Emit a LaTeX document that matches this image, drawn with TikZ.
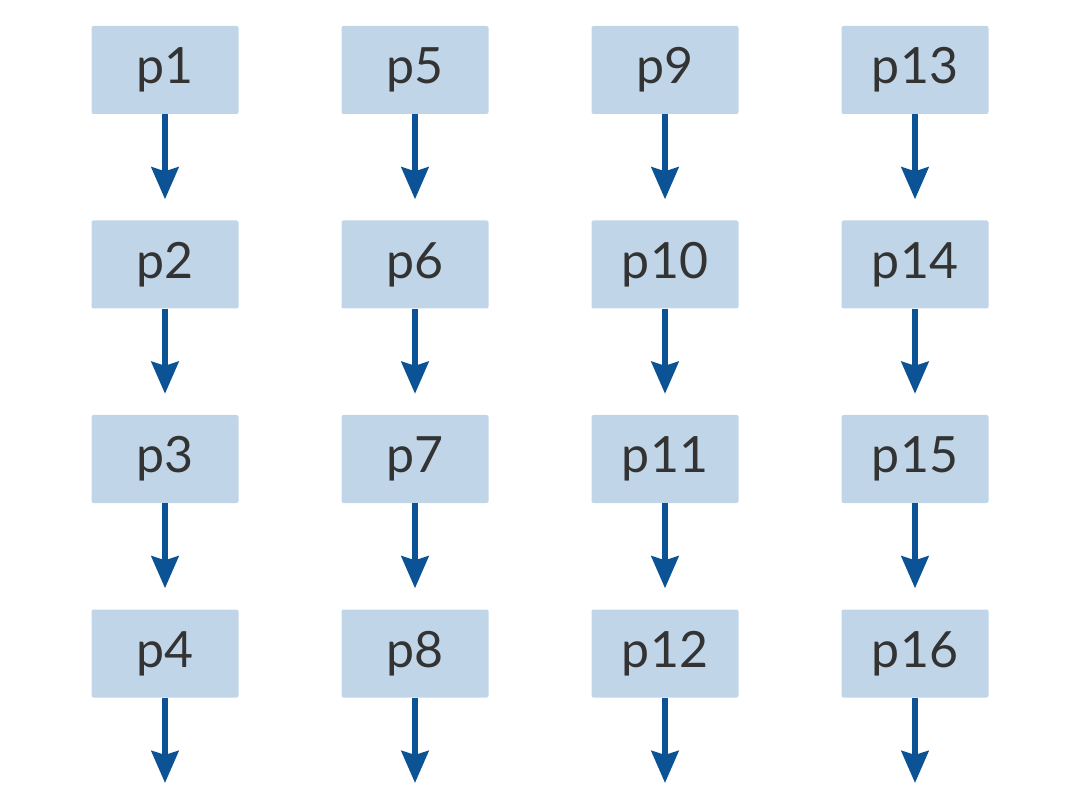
\documentclass[tikz,border=0pt]{standalone}
\usepackage{fontspec}
\setmainfont{Lato}
\usetikzlibrary{arrows.meta}
\definecolor{boxfill}{HTML}{C0D5E8}
\definecolor{arrowblue}{HTML}{0B5394}
\definecolor{txt}{HTML}{333333}
\begin{document}
\begin{tikzpicture}[x=1pt,y=-1pt,
  pbox/.style={fill=boxfill, draw=none, rounded corners=2pt, minimum width=147pt, minimum height=88pt, inner sep=0pt, text=txt, font=\fontsize{50}{60}\selectfont},
  flow/.style={draw=arrowblue, line width=6pt, shorten >=21pt, -{Stealth[length=32pt,width=27pt,inset=4pt]}}]
\useasboundingbox (0,0) rectangle (1080,810);
\foreach \c [count=\ci from 0] in {0,1,2,3}{
  \foreach \r [count=\ri from 0] in {1,2,3,4}{
    \pgfmathtruncatemacro{\n}{\c*4+\r}
    \node[pbox] (p\n) at ({165+250*\c},{70+194.5*\ri}) {p\n};
  }
  \pgfmathtruncatemacro{\d}{\c*4+4}
  \coordinate (e\d) at ({165+250*\c},{804});
}
\foreach \a/\b in {p1/p2,p2/p3,p3/p4,p5/p6,p6/p7,p7/p8,p9/p10,p10/p11,p11/p12,p13/p14,p14/p15,p15/p16,p4/e4,p8/e8,p12/e12,p16/e16}{
  \draw[flow] (\a.south) -- (\b);
}
\end{tikzpicture}
\end{document}
